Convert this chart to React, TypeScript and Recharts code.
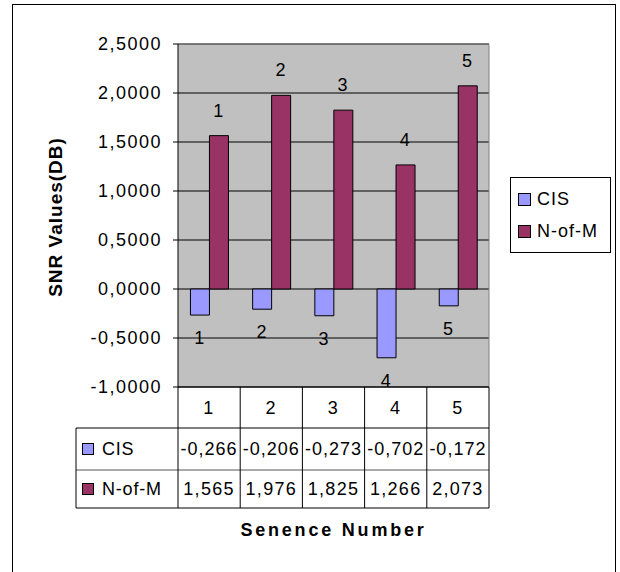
import { BarChart, Bar, XAxis, YAxis, CartesianGrid, LabelList, Customized } from 'recharts'

const sentences = ['1', '2', '3', '4', '5']
const cisValues = [-0.266, -0.206, -0.273, -0.702, -0.172]
const nofmValues = [1.565, 1.976, 1.825, 1.266, 2.073]
const yTicks = [-1, -0.5, 0, 0.5, 1, 1.5, 2, 2.5]

const CIS_COLOR = '#9999ff'
const NOFM_COLOR = '#993366'
const FONT = '"Liberation Sans", Arial, sans-serif'

const series = [
  { key: 'cis', name: 'CIS', color: CIS_COLOR },
  { key: 'nofm', name: 'N-of-M', color: NOFM_COLOR },
]

// plot box and data table layout
const PLOT_LEFT = 178
const PLOT_RIGHT = 489
const PLOT_TOP = 44
const PLOT_BOTTOM = 387
const TABLE_LEFT = 76
const ROW1 = 428
const ROW2 = 470
const TABLE_BOTTOM = 508
const COL_W = (PLOT_RIGHT - PLOT_LEFT) / sentences.length

const data = sentences.map((name, i) => ({
  name,
  cis: cisValues[i],
  nofm: nofmValues[i],
}))

const fmtComma = (v: number, digits: number) => v.toFixed(digits).replace('.', ',')

const textStyle = { fontFamily: FONT, fontSize: 18, letterSpacing: 1.5, fill: '#000' }

// one column of the data table under each category
function TableTick(props: any) {
  const { x, payload } = props
  const i = payload.index
  const left = x - COL_W / 2
  return (
    <g>
      <line x1={left} y1={PLOT_BOTTOM} x2={left} y2={TABLE_BOTTOM} stroke="#000" />
      {i === sentences.length - 1 && (
        <line x1={left + COL_W} y1={PLOT_BOTTOM} x2={left + COL_W} y2={TABLE_BOTTOM} stroke="#000" />
      )}
      <text x={x} y={(PLOT_BOTTOM + ROW1) / 2} textAnchor="middle" dominantBaseline="central" {...textStyle}>
        {payload.value}
      </text>
      <text x={x} y={(ROW1 + ROW2) / 2} textAnchor="middle" dominantBaseline="central" {...textStyle} letterSpacing={1}>
        {fmtComma(cisValues[i], 3)}
      </text>
      <text x={x} y={(ROW2 + TABLE_BOTTOM) / 2} textAnchor="middle" dominantBaseline="central" {...textStyle} letterSpacing={1.3}>
        {fmtComma(nofmValues[i], 3)}
      </text>
    </g>
  )
}

function TableFrame() {
  const rows = [(ROW1 + ROW2) / 2, (ROW2 + TABLE_BOTTOM) / 2]
  return (
    <g>
      <line x1={TABLE_LEFT} y1={ROW1} x2={PLOT_RIGHT} y2={ROW1} stroke="#000" />
      <line x1={TABLE_LEFT} y1={ROW2} x2={PLOT_RIGHT} y2={ROW2} stroke="#555" />
      <line x1={TABLE_LEFT} y1={TABLE_BOTTOM} x2={PLOT_RIGHT} y2={TABLE_BOTTOM} stroke="#000" />
      <line x1={TABLE_LEFT} y1={ROW1} x2={TABLE_LEFT} y2={TABLE_BOTTOM} stroke="#000" />
      <line x1={PLOT_LEFT} y1={PLOT_TOP} x2={PLOT_RIGHT} y2={PLOT_TOP} stroke="#808080" />
      <line x1={PLOT_RIGHT} y1={PLOT_TOP} x2={PLOT_RIGHT} y2={PLOT_BOTTOM} stroke="#808080" />
      {series.map((s, k) => (
        <g key={s.key}>
          <rect x={82.5} y={rows[k] - 5.5} width={11} height={11} fill={s.color} stroke="#000" />
          <text x={102} y={rows[k]} dominantBaseline="central" {...textStyle} letterSpacing={0.8}>
            {s.name}
          </text>
        </g>
      ))}
      <text
        x={(PLOT_LEFT + PLOT_RIGHT) / 2}
        y={530}
        textAnchor="middle"
        dominantBaseline="central"
        fontFamily={FONT}
        fontSize={18}
        fontWeight="bold"
        letterSpacing={2.8}
      >
        Senence Number
      </text>
      <text
        x={55}
        y={217}
        transform="rotate(-90 55 217)"
        textAnchor="middle"
        dominantBaseline="central"
        fontFamily={FONT}
        fontSize={19}
        fontWeight="bold"
        letterSpacing={1}
      >
        SNR Values(DB)
      </text>
    </g>
  )
}

// category name written above positive bars and below negative ones
const barLabel = (below: boolean) => (props: any) => {
  const { x, y, width, height, value } = props
  const top = Math.min(y, y + height)
  const bottom = Math.max(y, y + height)
  return (
    <text
      x={x + width / 2}
      y={below ? bottom + 23 : top - 25}
      textAnchor="middle"
      dominantBaseline="central"
      {...textStyle}
    >
      {value}
    </text>
  )
}

function LegendBox() {
  return (
    <div
      style={{
        position: 'absolute',
        left: 510,
        top: 177,
        width: 101,
        height: 76,
        border: '1px solid #000',
        background: '#fff',
        boxSizing: 'border-box',
        padding: '5px 0 0 7px',
        fontFamily: FONT,
        fontSize: 18,
        letterSpacing: 1,
      }}
    >
      {series.map((s) => (
        <div key={s.key} style={{ display: 'flex', alignItems: 'center', height: 32 }}>
          <span
            style={{
              display: 'inline-block',
              width: 11,
              height: 11,
              background: s.color,
              border: '1px solid #000',
              marginRight: 6,
            }}
          />
          {s.name}
        </div>
      ))}
    </div>
  )
}

export default function App() {
  return (
    <div style={{ position: 'absolute', left: 0, top: 0, width: 620, height: 572, background: '#fff' }}>
      <div
        style={{
          position: 'absolute',
          left: 12,
          top: 4,
          width: 604,
          height: 580,
          border: '1px solid #000',
          boxSizing: 'border-box',
        }}
      />
      <BarChart
        width={620}
        height={572}
        data={data}
        margin={{ top: PLOT_TOP, right: 620 - PLOT_RIGHT, bottom: 572 - PLOT_BOTTOM - 121, left: 0 }}
        barCategoryGap="20%"
        barGap={0}
        style={{ position: 'absolute', left: 0, top: 0 }}
      >
        <CartesianGrid vertical={false} stroke="#000" fill="#c0c0c0" fillOpacity={1} />
        <XAxis
          dataKey="name"
          height={121}
          tickSize={0}
          tickMargin={0}
          axisLine={{ stroke: '#000' }}
          tickLine={false}
          tick={<TableTick />}
          interval={0}
        />
        <YAxis
          width={PLOT_LEFT}
          domain={[-1, 2.5]}
          ticks={yTicks}
          tickFormatter={(v: number) => fmtComma(v, 4)}
          tickSize={5}
          tickMargin={11}
          axisLine={{ stroke: '#000' }}
          tickLine={{ stroke: '#000' }}
          tick={{ ...textStyle }}
        />
        {series.map((s) => (
          <Bar
            key={s.key}
            dataKey={s.key}
            name={s.name}
            fill={s.color}
            stroke="#000"
            strokeWidth={1}
            isAnimationActive={false}
          >
            <LabelList dataKey="name" content={barLabel(s.key === 'cis')} />
          </Bar>
        ))}
        <Customized component={TableFrame} />
      </BarChart>
      <LegendBox />
    </div>
  )
}
